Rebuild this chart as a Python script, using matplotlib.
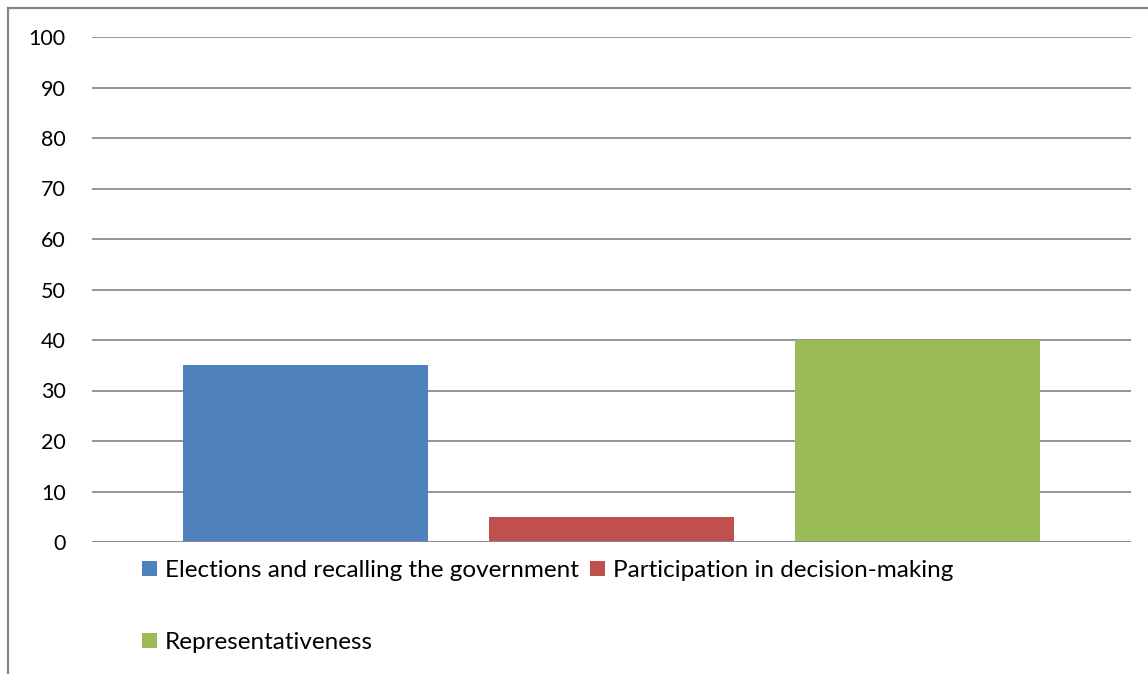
import matplotlib.pyplot as plt
from matplotlib.lines import Line2D
from matplotlib.patches import Patch

series = ['Elections and recalling the government',
          'Participation in decision-making',
          'Representativeness']
values = [35, 5, 40]
colors = ['#4f81bd', '#c0504d', '#9bbb59']
yticks = [0, 10, 20, 30, 40, 50, 60, 70, 80, 90, 100]

plt.rcParams['font.family'] = ['Lato', 'DejaVu Sans']

fig = plt.figure(figsize=(11.48, 6.74), dpi=100)
ax = fig.add_axes([92 / 1148, 1 - 542 / 674, (1131 - 92) / 1148, (542 - 37) / 674])

xs = list(range(len(series)))
ax.bar(xs, values, width=0.8, color=colors, zorder=3)
ax.set_xlim(-0.698, 2.698)
ax.set_ylim(0, 100)
ax.set_yticks(yticks)
ax.set_yticklabels([str(t) for t in yticks], fontsize=15.5)
ax.set_xticks([])
ax.tick_params(axis='y', length=0, pad=19)
ax.grid(axis='y', color='#8c8c8c', linewidth=1.3, zorder=0)
for s in ax.spines.values():
    s.set_visible(False)
ax.axhline(0, color='#8c8c8c', linewidth=1.3, zorder=4)

# legend below the plot: two columns, filled column-wise
handles = [Patch(facecolor=c, edgecolor='none') for c in colors]
order = [0, 2, 1]
fig.legend([handles[i] for i in order], [series[i] for i in order],
           loc='upper left', ncol=2,
           bbox_to_anchor=(142 / 1148, 1 - 560 / 674), frameon=False,
           fontsize=17.5, handlelength=0.62, handleheight=0.62,
           handletextpad=0.33, columnspacing=0.45, labelspacing=2.1,
           borderaxespad=0, borderpad=0)

# chart border (top and left visible)
fig.add_artist(Line2D([8 / 1148, 1], [1 - 8 / 674, 1 - 8 / 674],
                      transform=fig.transFigure, color='#868686', linewidth=1.6))
fig.add_artist(Line2D([8 / 1148, 8 / 1148], [0, 1 - 8 / 674],
                      transform=fig.transFigure, color='#868686', linewidth=1.6))

fig.savefig('out.png', dpi=100)
